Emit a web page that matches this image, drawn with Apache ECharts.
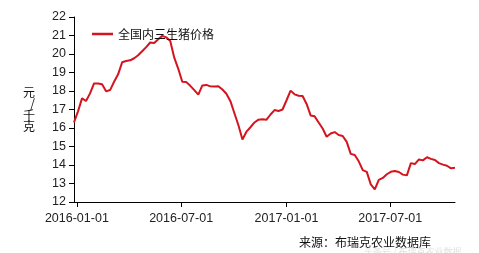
<!DOCTYPE html>
<html><head><meta charset="utf-8">
<script src="https://cdn.jsdelivr.net/npm/echarts@6/dist/echarts.min.js"></script>
<style>html,body{margin:0;padding:0;background:#fff}#c{width:479px;height:253px}</style>
</head><body><div id="c"></div>
<script>
// weekly dates start (first observation) and count
const startDate = '2015-12-27';
const seriesName = '全国内三生猪价格';
const prices = [
16.3,16.9,17.6,17.46,17.87,18.41,18.41,18.36,17.98,18.05,
18.5,18.9,19.55,19.62,19.66,19.77,19.93,20.15,20.37,20.62,
20.6,20.8,20.98,20.9,20.7,19.8,19.2,18.5,18.48,18.28,
18.05,17.8,18.3,18.33,18.25,18.24,18.26,18.08,17.85,17.45,
16.8,16.15,15.38,15.8,16.04,16.3,16.45,16.47,16.45,16.73,
16.97,16.92,17.0,17.5,18.02,17.82,17.74,17.73,17.3,16.68,
16.63,16.3,15.97,15.53,15.7,15.78,15.62,15.57,15.25,14.6,
14.54,14.2,13.72,13.63,12.95,12.68,13.2,13.3,13.5,13.63,
13.68,13.62,13.48,13.44,14.1,14.05,14.3,14.25,14.42,14.33,
14.27,14.1,14.02,13.96,13.82,13.85];
const xTickDates = ['2016-01-01','2016-07-01','2017-01-01','2017-07-01'];
const yMin = 12, yMax = 22, yStep = 1;
const yName = '元/千克';
const sourceText = '来源：布瑞克农业数据库';
const watermark = '头条号 / 布瑞克农业数据';

function pad(n){return n<10?'0'+n:''+n;}
const s = new Date(startDate+'T00:00:00');
const times = prices.map((_,i)=>+new Date(s.getFullYear(),s.getMonth(),s.getDate()+7*i));
const tickVals = xTickDates.map(d=>+new Date(d+'T00:00:00'));
function fmt(v){const d=new Date(v);return d.getFullYear()+'-'+pad(d.getMonth()+1)+'-'+pad(d.getDate());}

const chart = echarts.init(document.getElementById('c'), null, {renderer:'canvas'});
const fontLatin = 'Liberation Sans, Arial, sans-serif';
const fontCJK = 'Noto Sans CJK SC, sans-serif';
chart.setOption({
  animation:false,
  backgroundColor:'#fff',
  grid:{left:74,right:24,top:17,bottom:51,containLabel:false},
  legend:{
    left:87, top:23, icon:'rect', itemWidth:21, itemHeight:2.5, itemGap:10,
    textStyle:{fontFamily:fontCJK,fontSize:12,color:'#111'},
    data:[seriesName]
  },
  xAxis:{
    type:'value', min:times[0], max:times[times.length-1], scale:true,
    axisLine:{show:true,onZero:false,lineStyle:{color:'#000',width:1}},
    axisTick:{show:true,inside:false,length:5,lineStyle:{color:'#000'},customValues:tickVals},
    axisLabel:{show:true,margin:10,fontFamily:fontLatin,fontSize:12.5,color:'#222',customValues:tickVals,
      formatter:fmt},
    splitLine:{show:false}
  },
  yAxis:{
    type:'value', min:yMin, max:yMax, interval:yStep,
    name: yName.split('').join('\n'), nameLocation:'middle', nameGap:39, nameRotate:0,
    nameTextStyle:{fontFamily:fontCJK,fontSize:12,color:'#111',lineHeight:11.5},
    axisLine:{show:true,lineStyle:{color:'#000',width:1}},
    axisTick:{show:true,inside:false,length:5,lineStyle:{color:'#000'}},
    axisLabel:{margin:8,fontFamily:fontLatin,fontSize:12.5,color:'#222'},
    splitLine:{show:false}
  },
  series:[{
    name:seriesName, type:'line', showSymbol:false, symbol:'none',
    lineStyle:{color:'#d4141e',width:2}, itemStyle:{color:'#d4141e'},
    data:times.map((t,i)=>[t,prices[i]])
  }],
  graphic:[
    {type:'text',left:299,top:236,style:{text:sourceText,font:'12px '+fontCJK,fill:'#111'}},
    {type:'text',left:364,top:247,style:{text:watermark,font:'9px '+fontCJK,fill:'#e2e2e2'}}
  ]
});
</script></body></html>
